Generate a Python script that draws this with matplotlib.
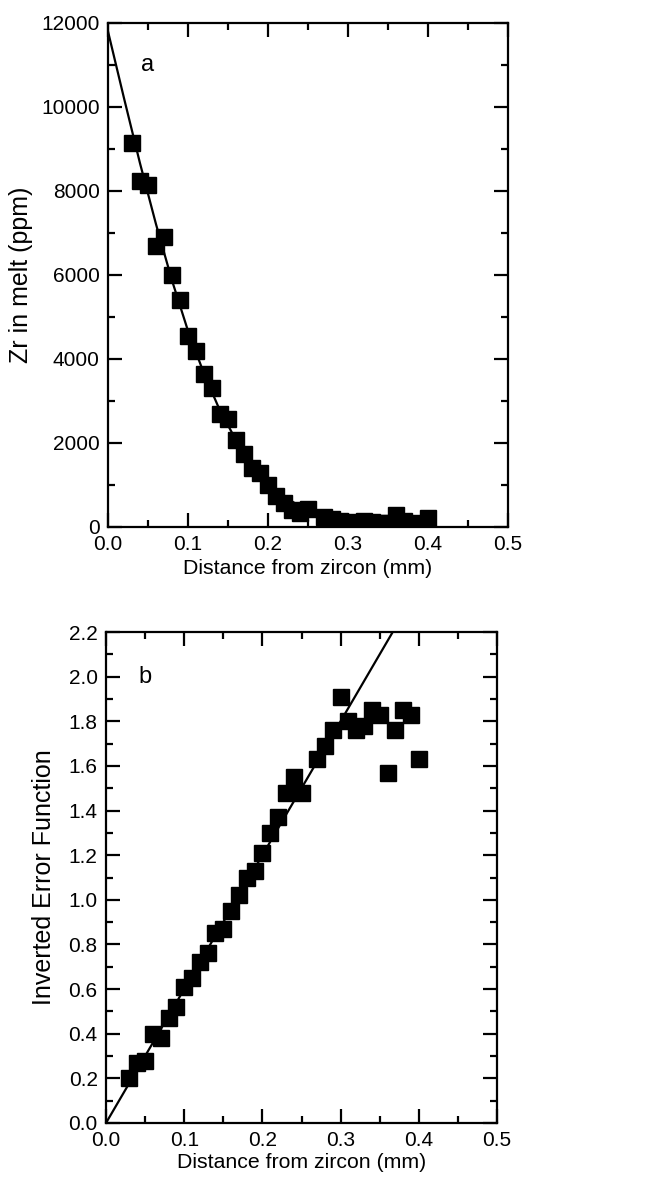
import matplotlib
matplotlib.use("Agg")
import matplotlib.pyplot as plt
from matplotlib.ticker import MultipleLocator, FormatStrFormatter

plt.rcParams['font.family'] = ['Liberation Sans', 'DejaVu Sans']

# Panel a: Zr concentration profile
dist_a = [0.03, 0.04, 0.05, 0.06, 0.07, 0.08, 0.09, 0.10, 0.11, 0.12, 0.13,
          0.14, 0.15, 0.16, 0.17, 0.18, 0.19, 0.20, 0.21, 0.22, 0.23, 0.24,
          0.25, 0.27, 0.28, 0.29, 0.30, 0.31, 0.32, 0.33, 0.34, 0.35, 0.36,
          0.37, 0.38, 0.39, 0.40]
zr_ppm = [9150, 8250, 8150, 6700, 6900, 6000, 5400, 4550, 4200, 3650, 3320,
          2680, 2570, 2080, 1730, 1400, 1280, 1000, 750, 580, 400, 330,
          420, 230, 190, 150, 70, 120, 140, 130, 90, 100, 280,
          150, 80, 90, 210]

# Fitted profile curve
fit_a_x = [0.00, 0.02, 0.04, 0.06, 0.08, 0.10, 0.12, 0.14, 0.16, 0.18, 0.20,
           0.22, 0.24, 0.26, 0.28, 0.30, 0.32, 0.34, 0.36, 0.38, 0.40]
fit_a_y = [11800, 10210, 8660, 7210, 5870, 4670, 3650, 2770, 2070, 1500, 1060,
           730, 490, 320, 210, 130, 78, 45, 26, 12, 7]

# Panel b: inverted error function
dist_b = dist_a
inv_erf = [0.20, 0.27, 0.28, 0.40, 0.38, 0.47, 0.52, 0.61, 0.65, 0.72, 0.76,
           0.85, 0.87, 0.95, 1.02, 1.10, 1.13, 1.21, 1.30, 1.37, 1.48, 1.55,
           1.48, 1.63, 1.69, 1.76, 1.91, 1.80, 1.76, 1.78, 1.85, 1.83, 1.57,
           1.76, 1.85, 1.83, 1.63]

fit_b_x = [0.0, 0.5]
fit_b_y = [0.0, 3.0]

fig = plt.figure(figsize=(6.6, 11.86), dpi=100)
ax1 = fig.add_axes([108/660, 1-527/1186, 400/660, 504/1186])
ax2 = fig.add_axes([106/660, 1-1123/1186, 391/660, 491/1186])

tick_fs = 15
xlab_fs = 15.3
ylab_fs = 18

def style(ax):
    for s in ax.spines.values():
        s.set_linewidth(1.6)
    ax.tick_params(which='both', direction='in', top=True, right=True,
                   labelsize=tick_fs, width=1.6)
    ax.tick_params(which='major', length=10)
    ax.tick_params(which='minor', length=5)
    ax.tick_params(axis='y', pad=6)
    ax.tick_params(axis='x', pad=6)
    ax.xaxis.set_major_locator(MultipleLocator(0.1))
    ax.xaxis.set_minor_locator(MultipleLocator(0.05))
    ax.xaxis.set_major_formatter(FormatStrFormatter('%.1f'))

ax1.plot(fit_a_x, fit_a_y, color='black', lw=1.6, zorder=2)
ax1.plot(dist_a, zr_ppm, 's', color='black', markersize=12, zorder=3)
ax1.set_xlim(0, 0.5)
ax1.set_ylim(0, 12000)
style(ax1)
ax1.yaxis.set_major_locator(MultipleLocator(2000))
ax1.yaxis.set_minor_locator(MultipleLocator(1000))
ax1.set_xlabel('Distance from zircon (mm)', fontsize=xlab_fs, labelpad=3)
ax1.set_ylabel('Zr in melt (ppm)', fontsize=ylab_fs, labelpad=6)
ax1.text(0.05, 11000, 'a', fontsize=17, ha='center', va='center')

ax2.plot(fit_b_x, fit_b_y, color='black', lw=1.6, zorder=2)
ax2.plot(dist_b, inv_erf, 's', color='black', markersize=12, zorder=3)
ax2.set_xlim(0, 0.5)
ax2.set_ylim(0, 2.2)
style(ax2)
ax2.yaxis.set_major_locator(MultipleLocator(0.2))
ax2.yaxis.set_minor_locator(MultipleLocator(0.1))
ax2.yaxis.set_major_formatter(FormatStrFormatter('%.1f'))
ax2.set_xlabel('Distance from zircon (mm)', fontsize=xlab_fs, labelpad=2)
ax2.set_ylabel('Inverted Error Function', fontsize=ylab_fs, labelpad=9)
ax2.text(0.05, 2.0, 'b', fontsize=17, ha='center', va='center')

fig.savefig('out.png', dpi=100)
